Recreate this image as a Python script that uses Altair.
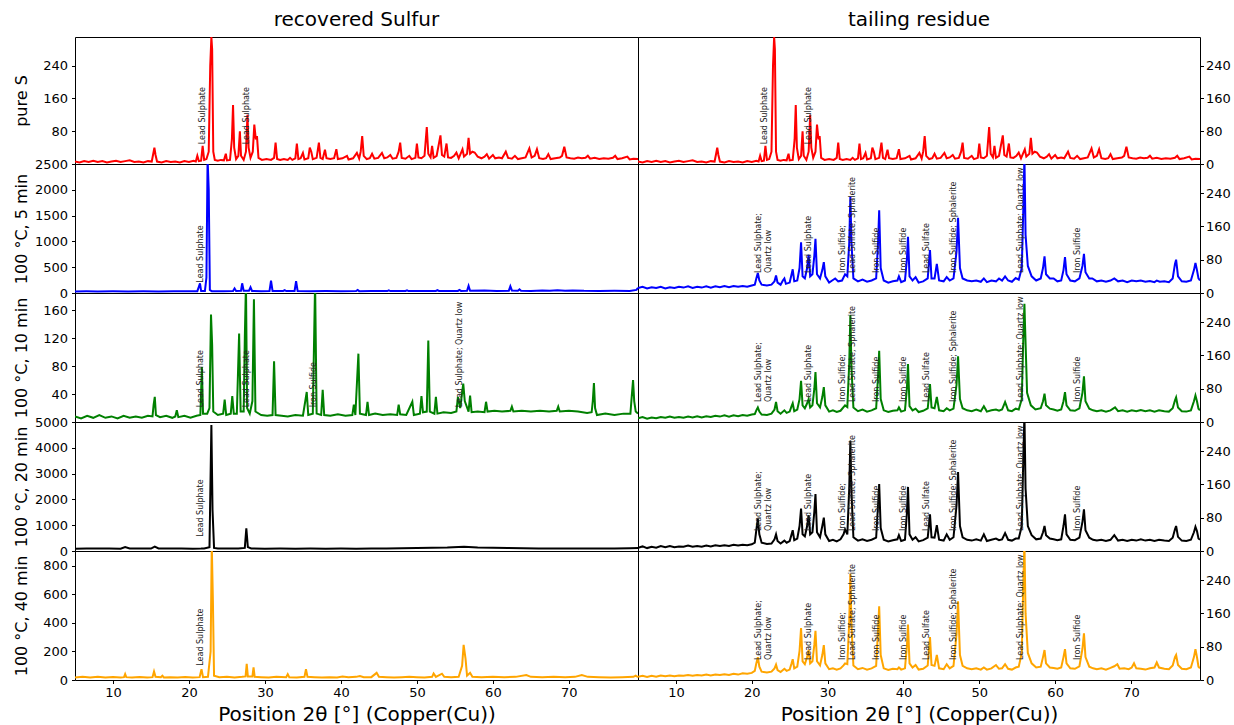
import altair as alt
import pandas as pd

FONT = "DejaVu Sans"
X_DOMAIN = [5, 79.1]
X_TICKS = [10, 20, 30, 40, 50, 60, 70]
X_TITLE = "Position 2θ [°] (Copper(Cu))"

# ---------------- series: (2theta, counts) ----------------
PURE_S = [(5.0,6),(5.6,4),(6.2,7),(6.8,5),(7.4,8),(8.0,5),(8.6,7),(9.2,4),(9.8,6),(10.4,8),(11.0,5),(11.6,7),(12.2,9),(12.8,5),(13.4,6),(14.0,4),(14.6,7),(15.1,6),(15.3,25),(15.45,40),(15.6,22),(15.8,6),(16.4,4),(17.0,7),(17.6,5),(18.2,6),(18.8,4),(19.4,7),(20.0,5),(20.6,8),(20.9,6),(21.1,20),(21.3,7),(21.6,8),(21.8,44),(22.0,10),(22.3,12),(22.6,30),(22.8,240),(22.95,310),(23.05,280),(23.2,30),(23.4,10),(23.8,8),(24.2,10),(24.6,9),(24.85,25),(25.0,9),(25.4,10),(25.65,60),(25.8,144),(25.95,40),(26.2,12),(26.5,20),(26.7,80),(26.85,20),(27.2,10),(27.5,30),(27.7,120),(27.85,40),(28.1,15),(28.4,30),(28.6,96),(28.8,60),(28.95,68),(29.15,15),(29.6,10),(30.2,12),(30.8,10),(31.2,15),(31.4,52),(31.6,12),(32.0,10),(32.5,12),(33.0,10),(33.3,15),(33.6,10),(34.0,14),(34.2,50),(34.4,12),(34.7,14),(35.0,27),(35.2,11),(35.7,14),(35.9,40),(36.1,30),(36.3,12),(36.8,15),(37.1,52),(37.3,15),(37.6,12),(37.9,35),(38.1,14),(38.6,12),(39.1,14),(39.4,36),(39.6,12),(40.2,14),(40.8,20),(41.0,11),(41.6,14),(42.1,27),(42.4,13),(42.6,30),(42.8,68),(43.0,20),(43.4,12),(43.8,14),(44.1,25),(44.4,13),(44.9,15),(45.4,27),(45.7,14),(46.1,16),(46.5,22),(46.8,13),(47.3,15),(47.6,30),(47.8,52),(48.0,15),(48.5,13),(49.0,20),(49.3,12),(49.8,15),(50.0,50),(50.2,16),(50.6,14),(51.0,20),(51.3,90),(51.5,25),(51.8,16),(52.0,44),(52.2,15),(52.6,20),(53.1,70),(53.3,22),(53.6,18),(53.9,50),(54.1,16),(54.5,15),(54.9,20),(55.2,28),(55.5,14),(56.0,36),(56.2,18),(56.6,25),(56.8,64),(57.0,25),(57.3,30),(57.6,28),(58.0,18),(58.5,14),(58.9,18),(59.2,24),(59.5,13),(60.0,22),(60.3,14),(60.8,16),(61.2,14),(61.7,30),(62.0,15),(62.5,13),(62.9,20),(63.3,12),(63.8,14),(64.3,16),(64.8,38),(65.1,16),(65.5,20),(65.8,36),(66.1,14),(66.6,12),(67.0,14),(67.3,24),(67.6,12),(68.2,14),(68.8,16),(69.1,20),(69.4,42),(69.7,16),(70.2,14),(70.7,13),(71.2,16),(71.7,14),(72.2,15),(72.5,20),(72.8,13),(73.4,15),(74.0,12),(74.6,14),(75.2,13),(75.8,15),(76.1,20),(76.4,12),(77.0,14),(77.7,18),(78.0,11),(78.5,13),(79.1,12)]

SULFUR_5 = [(5.0,30),(6.5,32),(8.0,30),(10.0,33),(12.0,31),(14.0,32),(16.0,30),(18.0,33),(20.0,32),(21.1,35),(21.3,120),(21.45,188),(21.6,40),(22.1,40),(22.3,300),(22.45,2600),(22.6,2010),(22.75,60),(23.0,35),(24.5,33),(25.8,40),(26.0,90),(26.2,40),(26.85,45),(27.0,188),(27.2,45),(27.9,45),(28.1,110),(28.3,40),(29.5,35),(30.6,40),(30.8,240),(31.0,40),(32.4,40),(32.6,55),(32.8,38),(33.9,40),(34.1,230),(34.3,40),(36.0,35),(38.0,38),(40.0,36),(42.0,38),(42.2,60),(42.4,36),(44.0,38),(46.1,38),(46.3,52),(46.5,38),(48.5,40),(48.7,52),(48.9,38),(50.5,40),(52.5,40),(52.7,55),(52.9,40),(55.4,40),(55.6,60),(55.8,40),(56.6,45),(56.8,140),(57.0,45),(58.9,50),(60.5,40),(62.1,45),(62.3,130),(62.5,50),(63.3,45),(63.5,70),(63.7,42),(65.0,40),(66.5,50),(67.5,42),(68.5,55),(69.5,45),(70.5,50),(72.0,42),(74.0,40),(76.0,42),(78.0,40),(78.9,60),(79.1,100)]

SULFUR_10 = [(5.0,8),(5.8,5),(6.6,9),(7.4,6),(8.2,10),(9.0,6),(9.8,8),(10.6,5),(11.4,9),(12.2,6),(13.0,8),(13.8,6),(14.6,9),(15.2,8),(15.35,25),(15.5,36),(15.65,10),(16.2,7),(17.0,9),(17.8,6),(18.2,8),(18.4,17),(18.6,7),(19.4,9),(20.2,6),(21.0,9),(21.5,10),(21.7,79),(21.85,12),(22.4,12),(22.7,20),(22.9,154),(23.05,111),(23.2,15),(23.8,10),(24.5,12),(24.7,32),(24.9,10),(25.5,12),(25.7,37),(25.9,12),(26.3,12),(26.6,127),(26.8,15),(27.2,15),(27.35,120),(27.5,200),(27.65,20),(28.0,12),(28.35,30),(28.55,176),(28.75,15),(29.5,10),(30.3,9),(31.0,10),(31.2,87),(31.4,10),(32.2,9),(33.0,8),(34.0,10),(35.0,9),(35.5,43),(35.7,10),(36.3,12),(36.6,200),(36.8,12),(37.4,10),(37.6,46),(37.8,10),(38.6,9),(39.6,11),(40.6,9),(41.5,10),(41.7,25),(41.9,10),(42.3,98),(42.5,12),(43.3,10),(43.5,29),(43.7,10),(44.5,12),(45.5,10),(46.5,11),(47.4,10),(47.6,25),(47.8,11),(48.6,10),(49.4,29),(49.6,10),(50.4,12),(50.6,37),(50.8,14),(51.3,15),(51.5,117),(51.7,15),(52.3,12),(52.5,36),(52.7,12),(53.5,14),(54.5,13),(55.2,15),(55.4,36),(55.7,20),(56.1,55),(56.3,30),(56.8,15),(57.0,38),(57.2,14),(58.0,15),(58.9,14),(59.1,29),(59.3,15),(60.2,16),(61.2,15),(62.3,16),(62.5,22),(62.7,15),(63.8,16),(65.0,15),(66.2,16),(67.4,15),(68.4,16),(68.6,22),(68.8,15),(70.0,16),(71.2,15),(72.4,13),(73.0,14),(73.15,30),(73.3,56),(73.45,20),(73.7,10),(74.8,12),(76.0,10),(77.2,12),(78.1,12),(78.3,40),(78.45,60),(78.6,30),(78.8,15),(79.1,12)]

SULFUR_20 = [(5.0,90),(6.5,100),(8.0,95),(9.5,100),(11.0,90),(11.6,150),(12.2,95),(13.5,100),(15.0,95),(15.5,170),(16.0,100),(17.5,95),(19.0,100),(20.5,90),(21.6,95),(22.0,100),(22.7,150),(22.95,4880),(23.1,1600),(23.3,120),(23.8,100),(25.0,95),(26.5,100),(27.35,120),(27.55,880),(27.75,150),(28.2,100),(30.0,90),(32.0,95),(34.0,90),(36.0,95),(38.0,90),(40.0,95),(42.0,90),(44.0,95),(46.0,100),(48.0,110),(50.0,115),(52.0,125),(54.0,135),(56.2,165),(58.0,140),(60.0,130),(62.0,115),(64.0,105),(66.0,100),(68.0,95),(70.0,100),(72.0,95),(74.0,100),(76.0,95),(78.0,110),(79.1,120)]

SULFUR_40 = [(5.0,18),(6.0,22),(7.0,17),(8.0,22),(9.0,18),(10.0,21),(11.0,17),(11.45,20),(11.6,41),(11.75,20),(12.5,18),(13.5,21),(14.5,17),(15.2,20),(15.4,60),(15.6,22),(16.3,20),(16.5,30),(16.7,18),(17.5,20),(18.5,17),(19.5,21),(20.5,18),(21.4,20),(21.65,75),(21.85,20),(22.5,22),(22.85,200),(23.0,950),(23.15,560),(23.3,30),(24.0,20),(25.0,22),(26.0,18),(27.0,22),(27.45,25),(27.6,114),(27.75,25),(28.35,25),(28.5,88),(28.65,22),(29.5,20),(30.5,18),(31.5,22),(32.8,20),(33.0,41),(33.2,20),(34.2,18),(35.2,22),(35.4,75),(35.6,22),(36.5,20),(37.5,18),(38.5,20),(39.5,18),(40.2,25),(41.0,20),(42.0,22),(42.5,28),(43.0,20),(44.0,20),(44.7,50),(45.0,22),(46.0,20),(47.0,18),(48.0,20),(49.0,22),(50.0,20),(51.0,18),(52.0,22),(52.2,46),(52.5,22),(53.3,44),(53.6,22),(54.5,20),(55.5,22),(55.95,100),(56.15,247),(56.4,150),(56.6,30),(57.0,50),(57.3,22),(58.5,20),(60.0,22),(61.5,20),(63.0,22),(64.4,35),(65.0,22),(66.5,20),(68.0,22),(69.5,20),(70.8,22),(71.7,35),(72.5,22),(74.0,20),(75.5,18),(77.0,20),(78.5,22),(78.8,30),(79.1,20)]

RESIDUE_5 = [(5.0,12),(5.6,15),(6.2,11),(6.8,14),(7.4,12),(8.0,15),(8.6,11),(9.2,14),(9.8,12),(10.4,15),(11.0,13),(11.6,16),(12.2,12),(12.8,15),(13.4,13),(14.0,16),(14.6,13),(15.2,16),(15.8,14),(16.4,17),(17.0,14),(17.6,17),(18.2,15),(18.8,17),(19.4,15),(20.0,18),(20.4,20),(20.6,35),(20.8,48),(21.0,30),(21.3,20),(22.0,18),(22.6,20),(23.0,28),(23.2,42),(23.4,25),(23.8,20),(24.1,30),(24.3,35),(24.5,22),(25.0,25),(25.25,45),(25.4,57),(25.6,28),(26.0,30),(26.3,60),(26.5,122),(26.7,40),(27.0,35),(27.3,60),(27.5,92),(27.7,40),(28.0,45),(28.25,90),(28.4,130),(28.6,45),(29.0,35),(29.3,55),(29.5,74),(29.7,40),(30.2,25),(30.6,30),(31.0,35),(31.4,28),(31.9,30),(32.3,45),(32.6,40),(32.85,120),(33.0,231),(33.15,120),(33.4,35),(34.0,28),(34.6,32),(35.2,27),(35.8,30),(36.4,35),(36.65,120),(36.8,199),(37.0,60),(37.4,30),(38.0,25),(38.6,28),(39.2,30),(39.4,40),(39.7,26),(40.2,30),(40.45,80),(40.6,135),(40.8,40),(41.2,30),(41.6,38),(42.0,25),(42.6,28),(43.2,35),(43.35,70),(43.5,103),(43.7,35),(44.1,35),(44.4,70),(44.7,30),(45.3,28),(45.7,38),(46.1,30),(46.6,35),(47.0,100),(47.2,181),(47.45,60),(47.8,35),(48.4,30),(49.0,28),(49.6,30),(50.2,27),(50.6,35),(51.0,26),(51.6,30),(52.2,28),(52.6,35),(53.0,30),(53.4,40),(53.8,30),(54.3,27),(54.8,36),(55.2,32),(55.6,60),(55.8,200),(55.95,330),(56.1,140),(56.4,65),(56.9,40),(57.5,30),(58.1,35),(58.4,60),(58.6,88),(58.8,45),(59.3,35),(59.8,35),(60.3,28),(60.8,30),(61.1,55),(61.3,86),(61.5,45),(62.0,30),(62.6,28),(63.2,35),(63.6,65),(63.8,94),(64.0,50),(64.5,35),(64.9,35),(65.5,28),(66.1,30),(66.7,27),(67.3,30),(67.8,35),(68.3,28),(68.9,30),(69.5,26),(70.1,30),(70.7,28),(71.3,30),(71.9,27),(72.5,29),(73.1,26),(73.4,30),(73.8,27),(74.4,28),(75.0,26),(75.5,35),(75.8,70),(75.95,80),(76.2,40),(76.7,28),(77.3,27),(77.9,30),(78.3,55),(78.5,72),(78.7,55),(78.9,35),(79.1,30)]

RESIDUE_10 = [(5.0,9),(5.6,12),(6.2,8),(6.8,11),(7.4,9),(8.0,12),(8.6,10),(9.2,13),(9.8,10),(10.4,12),(11.0,10),(11.6,13),(12.2,11),(12.8,14),(13.4,11),(14.0,14),(14.6,12),(15.2,15),(15.8,13),(16.4,16),(17.0,13),(17.6,16),(18.2,14),(18.8,17),(19.4,15),(20.0,18),(20.4,19),(20.6,28),(20.8,35),(21.0,25),(21.3,18),(22.0,17),(22.6,20),(23.0,30),(23.2,48),(23.4,26),(23.8,20),(24.3,28),(24.6,22),(25.0,25),(25.25,38),(25.4,45),(25.6,26),(26.0,30),(26.3,55),(26.5,99),(26.7,40),(27.0,33),(27.3,45),(27.5,55),(27.7,35),(28.0,40),(28.25,80),(28.4,120),(28.6,45),(29.0,35),(29.3,60),(29.5,84),(29.7,40),(30.2,25),(30.7,28),(31.2,24),(31.7,27),(32.3,40),(32.6,36),(32.85,140),(33.0,257),(33.15,130),(33.4,35),(34.0,26),(34.6,30),(35.2,25),(35.8,28),(36.4,33),(36.65,110),(36.8,171),(37.0,55),(37.4,28),(38.0,24),(38.6,27),(39.2,28),(39.4,35),(39.7,25),(40.2,28),(40.45,80),(40.6,139),(40.8,38),(41.2,28),(41.6,32),(42.0,24),(42.6,27),(43.2,33),(43.35,60),(43.5,91),(43.7,35),(44.1,33),(44.4,60),(44.7,28),(45.3,26),(45.7,33),(46.1,28),(46.6,32),(47.0,90),(47.2,158),(47.45,55),(47.8,33),(48.4,28),(49.0,26),(49.6,30),(50.2,26),(50.6,38),(51.0,25),(51.6,28),(52.2,30),(52.6,27),(53.0,30),(53.4,48),(53.8,28),(54.3,26),(54.8,32),(55.2,30),(55.6,55),(55.8,200),(55.95,284),(56.05,221),(56.3,70),(56.8,40),(57.4,30),(58.1,33),(58.4,50),(58.6,68),(58.8,40),(59.3,32),(59.8,30),(60.3,27),(60.8,30),(61.1,50),(61.3,72),(61.5,40),(62.0,28),(62.6,27),(63.2,33),(63.6,70),(63.8,110),(64.0,50),(64.5,32),(65.0,28),(65.5,26),(66.1,28),(66.7,25),(67.3,28),(67.9,35),(68.3,26),(68.9,28),(69.5,25),(70.1,28),(70.7,26),(71.3,29),(71.9,26),(72.5,28),(73.1,25),(73.7,28),(74.4,26),(75.0,25),(75.5,33),(75.8,52),(75.95,59),(76.2,35),(76.7,26),(77.3,25),(77.9,28),(78.3,50),(78.5,64),(78.7,50),(78.9,32),(79.1,28)]

RESIDUE_20 = [(5.0,8),(5.6,11),(6.2,7),(6.8,10),(7.4,8),(8.0,12),(8.6,9),(9.2,12),(9.8,9),(10.4,11),(11.0,10),(11.6,13),(12.2,10),(12.8,12),(13.4,10),(14.0,13),(14.6,11),(15.2,14),(15.8,12),(16.4,14),(17.0,12),(17.6,15),(18.2,13),(18.8,15),(19.4,14),(20.0,16),(20.4,20),(20.6,50),(20.8,78),(21.0,40),(21.3,20),(22.0,17),(22.6,18),(23.0,28),(23.2,40),(23.4,24),(23.8,18),(24.3,25),(24.6,20),(25.0,24),(25.25,40),(25.4,50),(25.6,26),(26.0,30),(26.3,60),(26.5,102),(26.7,40),(27.0,35),(27.3,60),(27.5,86),(27.7,40),(28.0,45),(28.25,95),(28.4,137),(28.6,45),(29.0,33),(29.3,60),(29.5,80),(29.7,40),(30.2,24),(30.7,27),(31.2,23),(31.7,28),(32.1,40),(32.3,52),(32.6,40),(32.85,150),(33.0,265),(33.15,140),(33.4,33),(34.0,25),(34.6,28),(35.2,24),(35.8,27),(36.4,32),(36.65,110),(36.8,161),(37.0,55),(37.4,27),(38.0,23),(38.6,26),(39.2,28),(39.4,38),(39.7,24),(40.2,27),(40.45,90),(40.6,154),(40.8,40),(41.2,27),(41.6,33),(42.0,23),(42.6,26),(43.2,32),(43.35,60),(43.5,88),(43.7,33),(44.1,32),(44.4,62),(44.7,27),(45.3,25),(45.7,40),(46.1,27),(46.6,33),(47.0,110),(47.2,190),(47.45,60),(47.8,33),(48.4,27),(49.0,25),(49.6,28),(50.2,25),(50.6,40),(51.0,24),(51.6,27),(52.2,30),(52.6,26),(53.0,28),(53.4,43),(53.8,27),(54.3,25),(54.8,30),(55.2,30),(55.6,60),(55.8,220),(55.95,330),(56.1,150),(56.4,60),(56.9,38),(57.5,28),(58.1,30),(58.4,45),(58.6,60),(58.8,38),(59.3,30),(59.8,28),(60.3,26),(60.8,28),(61.1,60),(61.3,88),(61.5,40),(62.0,27),(62.6,26),(63.2,32),(63.6,70),(63.8,100),(64.0,50),(64.5,32),(65.0,27),(65.5,25),(66.1,27),(66.7,24),(67.3,27),(67.8,38),(68.3,25),(68.9,27),(69.5,24),(70.1,27),(70.7,25),(71.3,28),(71.9,25),(72.5,27),(73.1,24),(73.7,27),(74.4,25),(75.0,24),(75.5,32),(75.8,52),(75.95,60),(76.2,34),(76.7,25),(77.3,24),(77.9,27),(78.3,45),(78.5,58),(78.7,48),(78.9,30),(79.1,27)]

RESIDUE_40 = [(5.0,8),(5.6,10),(6.2,7),(6.8,10),(7.4,8),(8.0,11),(8.6,9),(9.2,11),(9.8,9),(10.4,11),(11.0,10),(11.6,12),(12.2,10),(12.8,12),(13.4,11),(14.0,13),(14.6,11),(15.2,13),(15.8,12),(16.4,14),(17.0,12),(17.6,15),(18.2,13),(18.8,16),(19.4,15),(20.0,17),(20.4,22),(20.6,40),(20.8,55),(21.0,32),(21.3,20),(22.0,18),(22.6,20),(23.0,28),(23.2,37),(23.4,24),(23.8,19),(24.3,27),(24.6,22),(25.0,25),(25.25,40),(25.4,50),(25.6,28),(26.0,32),(26.3,70),(26.5,125),(26.7,45),(27.0,38),(27.3,55),(27.5,72),(27.7,40),(28.0,45),(28.25,85),(28.4,118),(28.6,45),(29.0,35),(29.3,60),(29.5,84),(29.7,40),(30.2,26),(30.7,28),(31.2,25),(31.7,28),(32.1,35),(32.3,40),(32.6,38),(32.85,140),(33.0,255),(33.15,130),(33.4,35),(34.0,26),(34.6,29),(35.2,25),(35.8,28),(36.4,34),(36.65,120),(36.8,177),(37.0,60),(37.4,28),(38.0,24),(38.6,27),(39.2,26),(39.4,30),(39.7,25),(40.2,28),(40.45,80),(40.6,133),(40.8,40),(41.2,30),(41.6,36),(42.0,25),(42.6,27),(43.2,35),(43.35,70),(43.5,103),(43.7,36),(44.1,34),(44.4,60),(44.7,28),(45.3,26),(45.7,38),(46.1,28),(46.6,34),(47.0,110),(47.2,189),(47.45,60),(47.8,34),(48.4,28),(49.0,26),(49.6,28),(50.2,25),(50.6,30),(51.0,25),(51.6,28),(52.2,36),(52.6,27),(53.0,28),(53.4,38),(53.8,27),(54.3,25),(54.8,30),(55.2,32),(55.6,65),(55.8,230),(55.95,330),(56.1,160),(56.4,65),(56.9,40),(57.5,30),(58.1,32),(58.4,55),(58.6,72),(58.8,40),(59.3,30),(59.8,29),(60.3,27),(60.8,30),(61.1,55),(61.3,74),(61.5,40),(62.0,28),(62.6,27),(63.2,33),(63.6,75),(63.8,112),(64.0,55),(64.5,32),(65.0,28),(65.5,26),(66.1,28),(66.7,25),(67.3,29),(67.8,33),(68.2,38),(68.5,27),(69.1,28),(69.7,26),(70.1,30),(70.4,40),(70.7,28),(71.3,27),(71.9,25),(72.5,28),(73.1,30),(73.4,42),(73.7,30),(74.4,27),(75.0,26),(75.5,35),(75.8,55),(75.95,60),(76.2,36),(76.7,27),(77.3,26),(77.9,30),(78.3,55),(78.5,74),(78.7,55),(78.9,32),(79.1,28)]

# ---------------- labels ----------------
ROW_TITLES = ["pure S", "100 °C, 5 min", "100 °C, 10 min", "100 °C, 20 min", "100 °C, 40 min"]
COLORS = ["#FF0000", "#0000FF", "#008000", "#000000", "#FFA500"]
LEFT_YMAX = [310, 2500, 185, 5000, 905]
LEFT_TICKS = [[80, 160, 240], [0, 500, 1000, 1500, 2000, 2500], [40, 80, 120, 160],
              [0, 1000, 2000, 3000, 4000, 5000], [0, 200, 400, 600, 800]]
RIGHT_YMAX = 310
RIGHT_TICKS = [0, 80, 160, 240]

PURE_LABELS = [(21.8, "Lead Sulphate"), (27.6, "Lead Sulphate")]
SULFUR_LABELS = [
    PURE_LABELS,
    [(21.6, "Lead Sulphate")],
    [(21.6, "Lead Sulphate"), (27.6, "Lead Sulphate"), (36.5, "Iron Sulfide"),
     (55.7, "Lead Sulphate; Quartz low")],
    [(21.6, "Lead Sulphate")],
    [(21.6, "Lead Sulphate")],
]
SULFUR_LABEL_Y = [48, 200, 21, 555, 100]
RESIDUE_LABELS = [(21.0, "Lead Sulphate;\nQuartz low"), (27.55, "Lead Sulphate"),
                  (32.0, "Iron Sulfide;\nLead Sulfate; Sphalerite"), (36.5, "Iron Sulfide"),
                  (40.1, "Iron Sulfide"), (43.1, "Lead Sulfate"), (46.65, "Iron Sulfide; Sphalerite"),
                  (55.5, "Lead Sulphate; Quartz low"), (63.0, "Iron Sulfide")]
RESIDUE_LABEL_Y = 48

LEFT_SERIES = [PURE_S, SULFUR_5, SULFUR_10, SULFUR_20, SULFUR_40]
RIGHT_SERIES = [PURE_S, RESIDUE_5, RESIDUE_10, RESIDUE_20, RESIDUE_40]
RIGHT_LABELS = [PURE_LABELS] + [RESIDUE_LABELS] * 4
RIGHT_LABEL_Y = [48] + [RESIDUE_LABEL_Y] * 4

HEIGHTS = [127, 129, 129, 129, 129]
W_LEFT, W_RIGHT = 563, 562


def panel(points, color, ymax, yaxis, labels, label_y, width, height, bottom, title=None):
    df = pd.DataFrame(points, columns=["x", "y"])
    ldf = pd.DataFrame([(x, label_y, t) for x, t in labels], columns=["x", "y", "label"])
    if bottom:
        xaxis = alt.Axis(values=X_TICKS, title=X_TITLE, titleFontSize=20, titleFontWeight="normal",
                         titlePadding=5, labelFontSize=13, tickSize=3.5, labelPadding=3, grid=False)
    else:
        xaxis = None
    xenc = alt.X("x:Q", scale=alt.Scale(domain=X_DOMAIN, nice=False, zero=False), axis=xaxis)
    yenc = alt.Y("y:Q", scale=alt.Scale(domain=[0, ymax], nice=False, zero=False), axis=yaxis)
    line = alt.Chart(df).mark_line(color=color, strokeWidth=2, clip=True).encode(x=xenc, y=yenc)
    text = alt.Chart(ldf).mark_text(angle=270, align="left", baseline="middle", fontSize=8,
                                    font=FONT, color="#222222", lineBreak="\n").encode(
        x=xenc, y=yenc, text="label:N")
    props = dict(width=width, height=height)
    if title:
        props["title"] = alt.TitleParams(title, fontSize=20, font=FONT, fontWeight="normal",
                                         anchor="middle", offset=7, color="black")
    return alt.layer(line, text).properties(**props)


cells = []
for i in range(5):
    bottom = i == 4
    lax = alt.Axis(orient="left", values=LEFT_TICKS[i], title=ROW_TITLES[i], titleFontSize=16,
                   titleFontWeight="normal", minExtent=41, maxExtent=41, titlePadding=5,
                   labelFontSize=13, labelPadding=4, tickSize=3.5, grid=False, format="d")
    rax = alt.Axis(orient="right", values=RIGHT_TICKS, title=None, labelFontSize=13,
                   labelPadding=2, tickSize=3.5, grid=False, format="d")
    cells.append(panel(LEFT_SERIES[i], COLORS[i], LEFT_YMAX[i], lax, SULFUR_LABELS[i],
                       SULFUR_LABEL_Y[i], W_LEFT, HEIGHTS[i], bottom,
                       "recovered Sulfur" if i == 0 else None))
    cells.append(panel(RIGHT_SERIES[i], COLORS[i], RIGHT_YMAX, rax, RIGHT_LABELS[i],
                       RIGHT_LABEL_Y[i], W_RIGHT, HEIGHTS[i], bottom,
                       "tailing residue" if i == 0 else None))

chart = alt.concat(*cells, columns=2, spacing=0, bounds="flush").properties(
    padding={"left": 12, "top": 9, "right": 2, "bottom": 2}, background="white"
).configure_view(
    stroke="black", strokeWidth=1
).configure_axis(
    labelFont=FONT, titleFont=FONT, labelColor="black", titleColor="black",
    tickColor="black", domain=False, grid=False
).configure_title(font=FONT)

chart.save("out.html", embed_options={"renderer": "svg", "actions": False})
